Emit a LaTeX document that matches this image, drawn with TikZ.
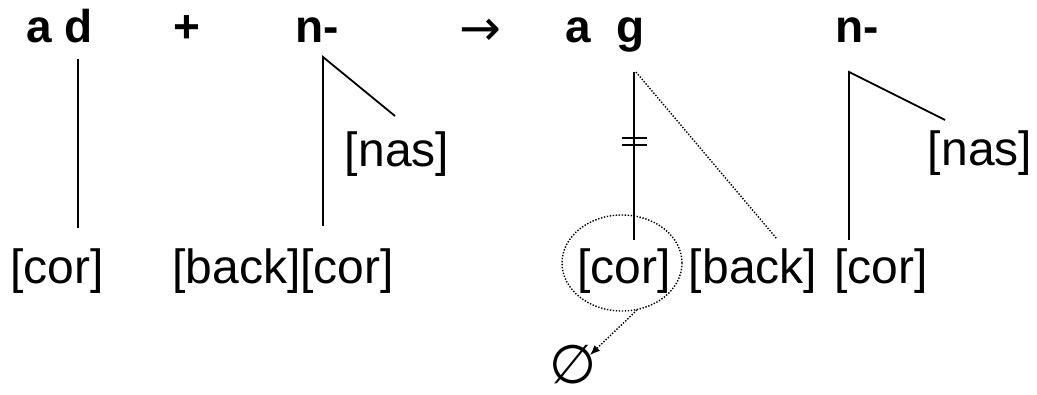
\documentclass[tikz,border=0pt]{standalone}
\usepackage{fontspec}
\setmainfont{Liberation Sans}
\newfontfamily\symfont{DejaVu Sans}
\usetikzlibrary{arrows.meta,shapes.geometric}
\begin{document}
\begin{tikzpicture}[x=1pt,y=-1pt,
  seg/.style={inner sep=0pt, font=\fontsize{46}{50}\selectfont\bfseries, anchor=base},
  feat/.style={inner sep=0pt, font=\fontsize{48}{52}\selectfont, anchor=base},
  assoc/.style={line width=1.8pt},
  newassoc/.style={line width=1.4pt, dash pattern=on 1.4pt off 1.6pt},
  delink/.style={line width=1.4pt}]
\useasboundingbox (0,0) rectangle (1037,395);
% top row
\node[seg] (ad) at (59.5,43) {a d};
\node[seg] (plus) at (187,43) {+};
\node[seg] (n1) at (317.5,43) {n-};
\node[inner sep=0pt, font=\symfont\fontsize{50}{54}\selectfont] (arr) at (480,32) {→};
\node[seg] (ag) at (605,43) {a\ \ g};
\node[seg] (n2) at (857.5,43) {n-};
% features
\node[feat] (cor1) at (57,284) {[cor]};
\node[feat] (backcor) at (283,284) {[back][cor]};
\node[feat] (nas1) at (397,167) {[nas]};
\node[feat] (cor2) at (624,284) {[cor]};
\node[feat] (back2) at (753,284) {[back]};
\node[feat] (cor3) at (881,284) {[cor]};
\node[feat] (nas2) at (980,166) {[nas]};
\node[inner sep=0pt, font=\symfont\fontsize{54}{58}\selectfont] (empty) at (573,365) {∅};
% anchor points
\coordinate (dT) at (78,59);   \coordinate (dB) at (78,228);
\coordinate (nT) at (323,57);  \coordinate (nB) at (323,226); \coordinate (nN) at (395,116);
\coordinate (gT) at (634,72);  \coordinate (gB) at (634,240);
\coordinate (gD) at (636,72);  \coordinate (bk) at (777,239);
\coordinate (mT) at (849,72);  \coordinate (mB) at (849,240); \coordinate (mN) at (945,120);
\coordinate (x1L) at (622,138); \coordinate (x1R) at (647,138);
\coordinate (x2L) at (622,145); \coordinate (x2R) at (647,145);
\coordinate (arS) at (637,310); \coordinate (arE) at (590,355);
% association lines
\draw[assoc] (dT) -- (dB);
\draw[assoc] (nB) -- (nT) -- (nN);
\draw[assoc] (gT) -- (gB);
\draw[newassoc] (gD) -- (bk);
\draw[assoc] (mB) -- (mT) -- (mN);
\draw[delink] (x1L) -- (x1R);
\draw[delink] (x2L) -- (x2R);
% circle and deletion arrow
\node[draw, newassoc, ellipse, minimum width=120pt, minimum height=96pt, inner sep=0pt] (circ) at (622,263) {};
\draw[newassoc, -{Latex[length=10pt,width=8pt]}] (arS) -- (arE);
\end{tikzpicture}
\end{document}
